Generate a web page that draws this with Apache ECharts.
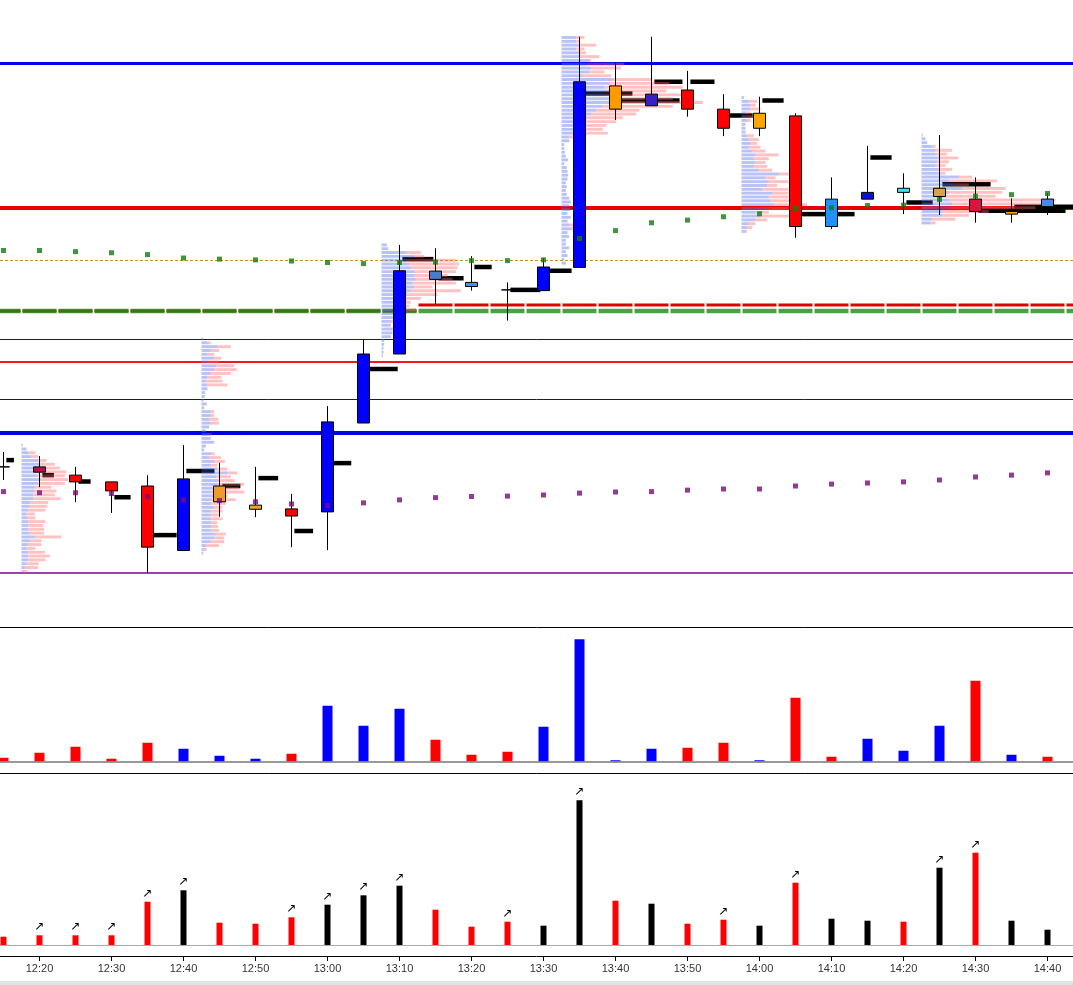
<!DOCTYPE html>
<html>
<head>
<meta charset="utf-8">
<script src="https://cdn.jsdelivr.net/npm/echarts@6/dist/echarts.min.js"></script>
<style>html,body{margin:0;padding:0;background:#fff;}#chart{width:1073px;height:985px;}</style>
</head>
<body>
<div id="chart"></div>
<script>
// ---------------- DATA ----------------
const times = ['12:15','12:20','12:25','12:30','12:35','12:40','12:45','12:50','12:55','13:00',
  '13:05','13:10','13:15','13:20','13:25','13:30','13:35','13:40','13:45','13:50',
  '13:55','14:00','14:05','14:10','14:15','14:20','14:25','14:30','14:35','14:40','14:45'];

// [open, close, low, high]
const ohlc = [
  [5028.5,5028.5,5025.0,5032.5],[5028.5,5027.1,5023.1,5031.4],[5026.3,5024.5,5019.1,5028.5],
  [5024.5,5022.1,5016.2,5024.5],[5023.4,5007.1,5000.2,5026.3],[5006.2,5025.3,5006.2,5034.3],
  [5023.4,5019.2,5015.2,5029.6],[5018.3,5017.2,5015.1,5028.5],[5017.3,5015.4,5007.1,5021.3],
  [5016.5,5040.5,5006.3,5044.7],[5040.2,5058.6,5040.2,5062.6],[5058.6,5080.8,5058.6,5087.7],
  [5078.5,5080.7,5071.9,5086.8],[5076.6,5077.7,5075.5,5084.7],[5075.7,5075.7,5067.5,5077.7],
  [5075.5,5081.8,5075.5,5084.2],[5081.7,5131.2,5081.7,5143.2],[5130.1,5123.9,5121.0,5136.1],
  [5124.8,5127.9,5124.8,5143.2],[5129.0,5123.9,5121.9,5134.1],[5123.9,5118.8,5116.7,5127.9],
  [5122.8,5118.8,5116.7,5127.2],[5122.1,5092.6,5089.6,5122.8],[5092.6,5099.9,5091.9,5105.7],
  [5099.9,5101.7,5099.9,5114.1],[5101.7,5102.8,5095.9,5106.8],[5100.6,5102.8,5095.7,5117.0],
  [5099.9,5096.6,5093.6,5105.7],[5096.6,5095.9,5093.6,5100.1],[5097.9,5099.9,5095.7,5101.5]
];
const candleColors = ['#000000','#b8104a','#ff0000','#ff0000','#ff0000','#0000ff','#f09a30','#f5a623',
  '#ff0000','#0000ff','#0000ff','#0000ff','#4a7ccc','#3399ff','#000000','#0000ff','#0000ff','#ff9900',
  '#3a1fc8','#ff0000','#ff0000','#ffa500','#ff0000','#2090ff','#1010dd','#40e0f0','#d9a050','#dc143c',
  '#ffa020','#4a8ae0'];

// black level markers per bar: price and length (in bars)
const markerPrices = [5030.3,5026.3,5024.6,5020.4,5010.3,5027.4,5023.4,5025.5,5011.4,5029.5,
  5054.6,5083.9,5078.8,5081.8,5075.7,5080.8,5128.1,5126.2,5131.2,5131.2,
  5122.2,5126.2,5095.9,5095.9,5111.0,5099.0,5103.9,5096.8,5097.9,null];
const markerSpans = [0.29,0.40,0.42,0.53,0.81,0.86,0.58,0.63,0.60,0.66,
  0.95,0.94,0.78,0.56,0.91,0.78,1.47,1.78,0.86,0.75,
  0.81,0.67,0.83,0.64,0.67,0.81,1.42,2.5,2.0,0];

const greenDots = [5086.2,5086.2,5085.9,5085.6,5085.1,5084.2,5083.9,5083.7,5083.4,5083.0,
  5082.7,5083.0,5083.1,5083.5,5083.5,5083.7,5089.4,5091.5,5093.6,5094.3,
  5095.2,5096.0,5097.4,5097.6,5098.2,5098.3,5099.8,5100.7,5101.1,5101.4];
const purpleDots = [5021.9,5021.6,5021.6,5021.4,5020.6,5019.7,5019.5,5019.2,5018.6,5018.2,
  5018.9,5019.7,5020.3,5020.6,5020.7,5021.0,5021.5,5021.8,5021.9,5022.3,
  5022.6,5022.6,5023.4,5023.9,5024.2,5024.5,5025.0,5025.8,5026.3,5026.9];

// per-bar step levels
const redStepLevels = [5070.1,5070.1,5070.1,5070.1,5070.1,5070.1,5070.1,5070.1,5070.1,5070.1,5070.1,5070.1,
  5071.6,5071.6,5071.6,5071.6,5071.6,5071.6,5071.6,5071.6,5071.6,5071.6,5071.6,5071.6,5071.6,5071.6,
  5071.6,5071.6,5071.6,5071.6,5071.6];
const greenStepLevels = [5070.1,5070.1,5070.1,5070.1,5070.1,5070.1,5070.1,5070.1,5070.1,5070.1,5070.1,
  5070.1,5070.1,5070.1,5070.1,5070.1,5070.1,5070.1,5070.1,5070.1,5070.1,5070.1,5070.1,5070.1,5070.1,
  5070.1,5070.1,5070.1,5070.1,5070.1,5070.1];

// horizontal reference levels
const levelPrices = [5136.1, 5097.6, 5083.5, 5062.5, 5056.4, 5046.5, 5037.5, 5000.1];

// volume profiles: starting bar, top price, rows of [buy, sell] volume
const PROFILE_STEP = 1.02;
const profileStarts = [0, 5, 10, 15, 20, 25];
const profileTops = [5034.3, 5062.6, 5087.7, 5143.0, 5127.0, 5117.0];
const profile1 = [[4,0],[15,0],[20,22],[30,20],[50,25],[55,45],[60,55],[65,70],[45,85],[55,85],[50,80],
  [40,50],[40,65],[35,65],[35,83],[25,55],[25,53],[20,52],[15,25],[18,24],[20,52],[20,45],[20,48],[22,46],
  [40,80],[25,35],[20,40],[15,27],[20,50],[20,65],[20,52],[15,37],[10,40],[6,12]];
const profile2 = [[5,0],[18,10],[48,40],[28,25],[18,20],[38,22],[18,35],[43,55],[38,68],[28,60],[18,42],
  [13,50],[18,60],[18,0],[11,0],[10,0],[6,0],[16,0],[8,0],[28,10],[28,10],[23,27],[28,25],[23,0],[13,0],
  [23,7],[28,0],[38,0],[13,0],[8,0],[28,12],[23,35],[38,32],[28,20],[48,30],[78,30],[43,45],[50,50],
  [48,80],[43,70],[28,100],[33,45],[28,75],[28,45],[38,25],[28,35],[28,25],[28,35],[28,20],[28,22],
  [28,25],[43,30],[38,30],[28,40],[13,40],[8,8],[5,0]];
const profile3 = [[16,0],[20,0],[73,45],[98,30],[73,150],[83,150],[88,140],[98,125],[98,100],[103,110],
  [93,130],[98,55],[88,150],[78,90],[63,55],[58,30],[63,20],[58,45],[48,15],[38,20],[28,15],[28,0],
  [33,10],[33,0],[28,0],[8,0],[8,0],[6,0],[6,0],[4,0]];
const profile4 = [[44,25],[44,10],[54,50],[44,25],[54,20],[54,60],[84,5],[74,115],[89,90],[84,45],[64,85],
  [154,115],[144,180],[129,235],[144,170],[129,235],[144,190],[149,275],[124,210],[104,130],[89,135],
  [64,120],[54,110],[49,85],[44,80],[34,105],[24,30],[24,0],[8,0],[8,0],[10,0],[13,0],[20,0],[8,0],
  [16,0],[18,0],[20,0],[18,0],[13,0],[16,0],[13,0],[16,0],[23,0],[28,0],[23,0],[26,0],[18,0],[28,0],
  [18,0],[23,20],[28,20],[18,0],[23,0],[13,0],[13,0],[23,0],[13,0],[18,0],[8,0],[13,0]];
const profile5 = [[7,0],[22,25],[27,15],[27,30],[12,15],[17,15],[17,10],[12,0],[12,0],[12,0],[17,20],
  [22,30],[27,20],[22,35],[32,40],[42,70],[37,45],[42,30],[37,40],[52,40],[112,70],[72,30],[82,60],
  [77,30],[62,80],[92,50],[82,60],[87,65],[97,100],[77,65],[42,40],[57,85],[42,35],[22,20],[17,15],[12,5]];
const profile6 = [[4,0],[12,0],[17,0],[32,10],[42,50],[42,35],[52,58],[47,35],[42,30],[52,40],[57,15],
  [112,40],[82,145],[102,40],[122,130],[82,160],[72,150],[82,320],[92,280],[82,260],[62,140],[62,80],
  [32,70],[27,15]];
const profiles = [profile1, profile2, profile3, profile4, profile5, profile6];

// lower panels
const volume = [75,175,295,55,375,255,115,55,155,1115,715,1055,435,135,195,695,2445,25,255,275,375,25,
  1275,95,455,215,715,1615,135,95];
const volumeSide = ['s','s','s','s','s','b','b','b','s','b','b','b','s','s','s','b','b','b','b','s','s',
  'b','s','s','b','b','b','s','b','s'];
const trades = [83,97,97,97,433,547,223,213,277,403,497,593,353,183,233,193,1447,443,413,213,253,193,623,
  263,243,233,773,923,243,153];
const tradeSide = ['s','s','s','s','s','b','s','s','s','b','b','b','s','s','s','b','b','s','b','s','s','b',
  's','b','b','s','b','s','b','b'];
const tradeArrow = [0,1,1,1,1,1,0,0,1,1,1,1,0,0,1,0,1,0,0,0,1,0,1,0,0,0,1,1,0,0];

// ---------------- STYLES ----------------
const levelStyles = [
  {color:'#0000f0', width:3},
  {color:'#e60000', width:4},
  {color:'#d09020', width:1, dash:[3,2]},
  {color:'#12128a', width:1},
  {color:'#f01818', width:2},
  {color:'#12128a', width:1},
  {color:'#0000e6', width:4},
  {color:'#a040b0', width:2}
];
const VOL_PX = 1/3;
const sideColor = {s:'#ff0000', b:'#0000ff'};
const tradeColor = {s:'#ff0000', b:'#000000'};

// ---------------- BUILD ----------------
const candleData = ohlc.map((v,i)=>({value:v, itemStyle:{color:candleColors[i], color0:candleColors[i],
  borderColor:'#000', borderColor0:'#000', borderWidth:1}}));
const profileRows = [];
profiles.forEach((rows,p)=>rows.forEach((r,k)=>profileRows.push([profileStarts[p], profileTops[p]-k*PROFILE_STEP, r[0], r[1]])));
const markerData = [];
markerPrices.forEach((p,i)=>{ if(p!=null) markerData.push([i,p,markerSpans[i]]); });

const labelInterval = (idx, val) => /0$/.test(val);

function stepRender(color, width, opacity){
  return function(params, api){
    const c = api.coord([api.value(0), api.value(1)]);
    const band = api.size([1,0])[0];
    const y = Math.round(c[1]);
    return {type:'line', shape:{x1:c[0]-band/2+1, y1:y, x2:c[0]+band/2-1, y2:y},
      style:{stroke:color, lineWidth:width, opacity:opacity}};
  };
}

const chart = echarts.init(document.getElementById('chart'), null, {renderer:'canvas'});
const gridL = -14.5, gridW = 31*36;
chart.setOption({
  animation:false,
  backgroundColor:'#ffffff',
  grid:[
    {left:gridL, width:gridW, top:0, height:615, outerBoundsMode:'none', containLabel:false},
    {left:gridL, width:gridW, top:627.5, height:146, outerBoundsMode:'none', containLabel:false},
    {left:gridL, width:gridW, top:780, height:176, outerBoundsMode:'none', containLabel:false}
  ],
  graphic:[
    {type:'line', silent:true, shape:{x1:0, y1:627.5, x2:1073, y2:627.5}, style:{stroke:'#000', lineWidth:1}},
    {type:'line', silent:true, shape:{x1:0, y1:773.5, x2:1073, y2:773.5}, style:{stroke:'#000', lineWidth:1}},
    {type:'rect', silent:true, shape:{x:0, y:981, width:1073, height:4}, style:{fill:'#e2e2e2'}}
  ],
  xAxis:[
    {type:'category', gridIndex:0, data:times, show:false},
    {type:'category', gridIndex:1, data:times, show:false},
    {type:'category', gridIndex:2, data:times,
      axisLine:{show:true, onZero:false, lineStyle:{color:'#000', width:1}},
      axisTick:{show:true, alignWithLabel:true, interval:labelInterval, length:5, lineStyle:{color:'#000'}},
      axisLabel:{interval:labelInterval, color:'#333', fontSize:11, fontFamily:'Liberation Sans, Arial, sans-serif', margin:7},
      splitLine:{show:false}}
  ],
  yAxis:[
    {type:'value', gridIndex:0, min:4989, max:5153, show:false, splitLine:{show:false}},
    {type:'value', gridIndex:1, min:-240, max:2680, show:false, splitLine:{show:false}},
    {type:'value', gridIndex:2, min:-110, max:1650, show:false, splitLine:{show:false}}
  ],
  series:[
    { // horizontal levels
      type:'custom', xAxisIndex:0, yAxisIndex:0, z:1, silent:true,
      data: levelPrices.map(p=>[0,p]), encode:{x:0, y:1},
      renderItem:function(params, api){
        const y0 = api.coord([0, api.value(1)])[1];
        const st = levelStyles[params.dataIndex];
        const y = st.width % 2 ? Math.round(y0-0.5)+0.5 : Math.round(y0);
        return {type:'line', shape:{x1:0, y1:y, x2:1073, y2:y},
          style:{stroke:st.color, lineWidth:st.width, lineDash:st.dash||null}};
      }
    },
    { type:'custom', xAxisIndex:0, yAxisIndex:0, z:2, silent:true,
      data: redStepLevels.map((p,i)=>[i,p]), encode:{x:0,y:1},
      renderItem: stepRender('#e00000', 3, 1) },
    { type:'custom', xAxisIndex:0, yAxisIndex:0, z:2, silent:true,
      data: greenStepLevels.map((p,i)=>[i,p]), encode:{x:0,y:1},
      renderItem: stepRender('#1a8c1a', 4.5, 0.8) },
    { // black markers
      type:'custom', xAxisIndex:0, yAxisIndex:0, z:3, silent:true,
      data: markerData, encode:{x:0,y:1},
      renderItem:function(params, api){
        const c = api.coord([api.value(0), api.value(1)]);
        const band = api.size([1,0])[0];
        const x1 = c[0] + band*0.08, x2 = c[0] + band*api.value(2);
        return {type:'rect', shape:{x:x1, y:c[1]-2.25, width:Math.max(0,x2-x1), height:4.5}, style:{fill:'#000'}};
      }
    },
    { // volume profiles
      type:'custom', xAxisIndex:0, yAxisIndex:0, z:4, silent:true,
      data: profileRows, encode:{x:0,y:1},
      renderItem:function(params, api){
        const c = api.coord([api.value(0), api.value(1)]);
        const band = api.size([1,0])[0];
        const rowH = api.size([0, PROFILE_STEP])[1];
        const h = rowH*0.76;
        const x0 = c[0] + band/2;
        const bw = api.value(2)*VOL_PX, pw = api.value(3)*VOL_PX;
        const y = c[1]-h/2;
        return {type:'group', children:[
          {type:'rect', shape:{x:x0, y:y, width:bw, height:h}, style:{fill:'rgba(100,120,240,0.45)'}},
          {type:'rect', shape:{x:x0+bw, y:y, width:pw, height:h}, style:{fill:'rgba(255,100,100,0.4)'}}
        ]};
      }
    },
    { type:'candlestick', xAxisIndex:0, yAxisIndex:0, z:5, barWidth:13, silent:true,
      data: candleData },
    { type:'scatter', xAxisIndex:0, yAxisIndex:0, z:6, symbol:'rect', symbolSize:5, silent:true,
      itemStyle:{color:'#127a12'}, data: greenDots.map((v,i)=>[i,v]) },
    { type:'scatter', xAxisIndex:0, yAxisIndex:0, z:6, symbol:'rect', symbolSize:5, silent:true,
      itemStyle:{color:'#7a0a7a'}, data: purpleDots.map((v,i)=>[i,v]) },
    { type:'bar', xAxisIndex:1, yAxisIndex:1, barWidth:10, silent:true,
      data: volume.map((v,i)=>({value:v, itemStyle:{color:sideColor[volumeSide[i]]}})),
      markLine:{silent:true, symbol:'none', label:{show:false}, lineStyle:{color:'#777', width:1.5, type:'solid'},
        data:[{yAxis:0}]} },
    { type:'bar', xAxisIndex:2, yAxisIndex:2, barWidth:6, silent:true,
      data: trades.map((v,i)=>({value:v, itemStyle:{color:tradeColor[tradeSide[i]]},
        label:{show:!!tradeArrow[i], position:'top', distance:2, formatter:'\u2197', fontSize:12, color:'#000',
          fontFamily:'DejaVu Sans'}})),
      markLine:{silent:true, symbol:'none', label:{show:false}, lineStyle:{color:'#aaa', width:1, type:'solid'},
        data:[{yAxis:0}]} }
  ]
});
</script>
</body>
</html>
